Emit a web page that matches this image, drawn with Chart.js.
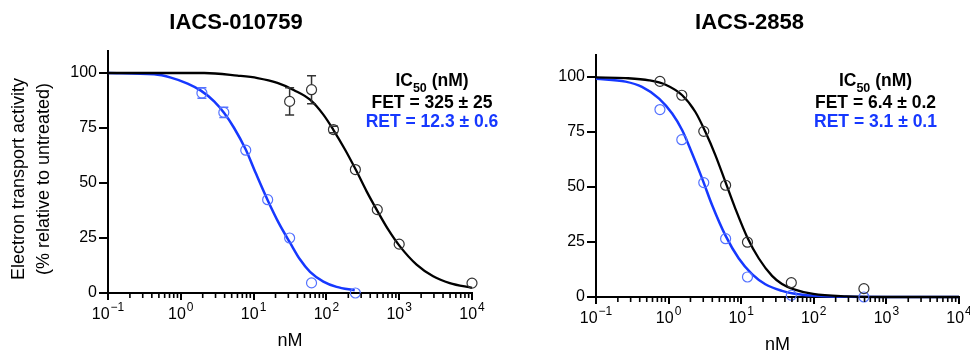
<!DOCTYPE html>
<html>
<head>
<meta charset="utf-8">
<script src="https://cdn.jsdelivr.net/npm/chart.js@4.4.0/dist/chart.umd.min.js"></script>
<style>
    html, body { margin: 0; padding: 0; background: #fff; }
    #wrap { position: relative; width: 970px; height: 351px; overflow: hidden; }
    #left_chart { position: absolute; left: 0; top: 0; }
    #right_chart { position: absolute; left: 540px; top: 0; }
</style>
</head>
<body>
<div id="wrap">
    <canvas id="left_chart" width="540" height="351"></canvas>
    <canvas id="right_chart" width="430" height="351"></canvas>
</div>
<script>
const x_ticks = [0.1, 1, 10, 100, 1000, 10000]
const x_tick_exp = ['\u22121', '0', '1', '2', '3', '4']
const y_ticks = [0, 25, 50, 75, 100]

// IACS-010759 - measured points
const left_fet_x = [31.25, 62.5, 125, 250, 500, 1000, 10000]
const left_fet_y = [87.1, 92.4, 74.3, 56.1, 37.9, 22.2, 4.5]
const left_fet_err = [6.2, 6.4, 1.5, 0, 0, 0, 0]
const left_ret_x = [1.95, 3.9, 7.8, 15.6, 31.25, 62.5, 250]
const left_ret_y = [90.9, 82.1, 64.9, 42.4, 25.0, 4.6, 0]
const left_ret_err = [2.4, 2.3, 0, 0, 0, 0, 0]

// IACS-010759 - fitted curves
const left_fet_fit_x = [0.1, 2.1, 6, 11.3, 21.2, 36, 59.6, 90.8, 124, 180, 260, 357, 490, 708, 1023, 1734, 2926, 4955, 10000]
const left_fet_fit_y = [100, 100, 98.8, 97.7, 95.5, 92.2, 87.9, 81.1, 74.3, 65.2, 55.3, 46.2, 37.9, 28.8, 21.2, 12.9, 7.6, 4.5, 2.3]
const left_ret_fit_x = [0.1, 0.43, 0.73, 1.24, 1.89, 2.87, 3.94, 5.4, 7.8, 10.7, 15.5, 22.4, 31.5, 43.5, 59.6, 90.8, 138, 245]
const left_ret_fit_y = [100, 99.4, 97.9, 95.2, 92, 87.1, 81.8, 75, 65.2, 54.5, 42.4, 31.5, 23, 15.2, 9.6, 5.2, 2.8, 1.2]

// IACS-2858 - measured points
const right_fet_x = [0.76, 1.52, 3.05, 6.1, 12.2, 49, 490]
const right_fet_y = [98.0, 91.7, 75.3, 50.8, 24.9, 6.5, 3.8]
const right_ret_x = [0.76, 1.52, 3.05, 6.1, 12.2, 49, 490]
const right_ret_y = [85.2, 71.5, 52.0, 26.5, 9.1, 0.8, 0]

// IACS-2858 - fitted curves
const right_fet_fit_x = [0.1, 0.255, 0.54, 0.91, 1.54, 2.34, 3.22, 4.42, 6.06, 8.3, 12.05, 17.5, 26.6, 36.5, 52, 98, 282, 1000, 10000]
const right_fet_fit_y = [99.8, 99.5, 98.5, 96.5, 91.7, 84.1, 75, 64.4, 52.3, 40.2, 27.3, 17.5, 9.6, 5.9, 3.6, 1.4, 0.3, 0, 0]
const right_ret_fit_x = [0.1, 0.255, 0.43, 0.74, 1.12, 1.54, 2.11, 2.9, 3.98, 6.06, 9.27, 14.1, 21.5, 36.5, 52, 122, 1000, 10000]
const right_ret_fit_y = [99.2, 97.9, 95.5, 90.2, 83.4, 75.8, 65.2, 53.8, 41.7, 28, 17.5, 10.4, 5.8, 2.8, 1.6, 0.4, 0, 0]

const left_title = 'IACS-010759'
const right_title = 'IACS-2858'
const left_fet_ic50 = 'FET = 325 \u00b1 25'
const left_ret_ic50 = 'RET = 12.3 \u00b1 0.6'
const right_fet_ic50 = 'FET = 6.4 \u00b1 0.2'
const right_ret_ic50 = 'RET = 3.1 \u00b1 0.1'
const y_title = ['Electron transport activity', '(% relative to untreated)']
const x_title = 'nM'

const FONT = '"Liberation Sans", Arial, Helvetica, sans-serif'
const BLUE = 'rgb(22, 56, 255)'
const BLUE_PT = 'rgb(84, 114, 255)'

const zip_xy = (xs, ys) => xs.map((x, i) => ({x: x, y: ys[i]}))

// error bars, drawn outside the open circles
const error_bar_plugin = {
    id: 'errbars',
    afterDatasetsDraw(chart) {
        const ctx = chart.ctx
        const ys = chart.scales.y
        chart.data.datasets.forEach((ds, i) => {
            if (!ds.errorBars) return
            const meta = chart.getDatasetMeta(i)
            ctx.save()
            ctx.strokeStyle = ds.borderColor
            ctx.lineWidth = 1.5
            ds.errorBars.forEach((err, j) => {
                if (!err) return
                const pt = meta.data[j]
                const v = ds.data[j].y
                const top = ys.getPixelForValue(v + err)
                const bot = ys.getPixelForValue(v - err)
                const r = ds.pointRadius
                ctx.beginPath()
                if (pt.y - top > r) { ctx.moveTo(pt.x, top); ctx.lineTo(pt.x, pt.y - r) }
                if (bot - pt.y > r) { ctx.moveTo(pt.x, pt.y + r); ctx.lineTo(pt.x, bot) }
                ctx.moveTo(pt.x - 4.5, top); ctx.lineTo(pt.x + 4.5, top)
                ctx.moveTo(pt.x - 4.5, bot); ctx.lineTo(pt.x + 4.5, bot)
                ctx.stroke()
            })
            ctx.restore()
        })
    }
}

// minor ticks, 10^n labels, axis titles and IC50 notes
const decor_plugin = {
    id: 'decor',
    afterDraw(chart, args, opts) {
        const ctx = chart.ctx
        const xs = chart.scales.x
        const axis_y = xs.top
        ctx.save()
        ctx.strokeStyle = '#000'
        ctx.lineWidth = 1.6
        ctx.beginPath()
        for (let d = -1; d < 4; d++) {
            for (let m = 2; m < 10; m++) {
                const px = xs.getPixelForValue(m * Math.pow(10, d))
                ctx.moveTo(px, axis_y)
                ctx.lineTo(px, axis_y + 5)
            }
        }
        ctx.stroke()

        ctx.fillStyle = '#000'
        ctx.textAlign = 'left'
        ctx.textBaseline = 'alphabetic'
        x_ticks.forEach((v, i) => {
            const px = xs.getPixelForValue(v)
            ctx.font = `16px ${FONT}`
            const w1 = ctx.measureText('10').width
            ctx.font = `12px ${FONT}`
            const w2 = ctx.measureText(x_tick_exp[i]).width
            const x0 = px - (w1 + w2 + 1) / 2
            ctx.font = `16px ${FONT}`
            ctx.fillText('10', x0, axis_y + 26)
            ctx.font = `12px ${FONT}`
            ctx.fillText(x_tick_exp[i], x0 + w1 + 1, axis_y + 18)
        })

        ctx.font = `18px ${FONT}`
        ctx.textAlign = 'center'
        ctx.fillText(x_title, (chart.chartArea.left + chart.chartArea.right) / 2, axis_y + 53)

        if (opts.yTitle) {
            ctx.font = `18px ${FONT}`
            ctx.textBaseline = 'middle'
            y_title.forEach((line, i) => {
                ctx.save()
                ctx.translate(opts.yTitle.x[i], opts.yTitle.cy)
                ctx.rotate(-Math.PI / 2)
                ctx.fillText(line, 0, 0)
                ctx.restore()
            })
        }

        ctx.textAlign = 'left'
        ctx.textBaseline = 'alphabetic'
        ;(opts.notes || []).forEach(note => {
            let total = 0
            note.parts.forEach(p => {
                ctx.font = `bold ${p.size}px ${FONT}`
                p.w = ctx.measureText(p.t).width
                total += p.w
            })
            let x = note.cx - total / 2
            ctx.fillStyle = note.color
            note.parts.forEach(p => {
                ctx.font = `bold ${p.size}px ${FONT}`
                ctx.fillText(p.t, x, note.baseline + (p.dy || 0))
                x += p.w
            })
        })
        ctx.restore()
    }
}

const ic50_notes = (cx, fet_text, ret_text) => [
    {cx: cx, baseline: 86, color: '#000', parts: [
        {t: 'IC', size: 17.5}, {t: '50', size: 12.5, dy: 6}, {t: ' (nM)', size: 17.5}]},
    {cx: cx, baseline: 108, color: '#000', parts: [{t: fet_text, size: 17.5}]},
    {cx: cx, baseline: 126.5, color: BLUE, parts: [{t: ret_text, size: 17.5}]},
]

const dose_response_chart = (canvas_id, cfg) => {
    const canvas = document.getElementById(canvas_id)
    const config = {
        type: 'scatter',
        data: {
            datasets: [
                {
                    label: 'FET',
                    data: zip_xy(cfg.fet_x, cfg.fet_y),
                    borderColor: '#333',
                    backgroundColor: 'rgba(0,0,0,0)',
                    pointRadius: 5,
                    pointBorderWidth: 1.2,
                    errorBars: cfg.fet_err,
                    clip: false,
                },
                {
                    label: 'RET',
                    data: zip_xy(cfg.ret_x, cfg.ret_y),
                    borderColor: BLUE_PT,
                    backgroundColor: 'rgba(0,0,0,0)',
                    pointRadius: 5,
                    pointBorderWidth: 1.2,
                    errorBars: cfg.ret_err,
                    clip: false,
                },
                {
                    type: 'line',
                    label: 'FET fit',
                    data: zip_xy(cfg.fet_fit_x, cfg.fet_fit_y),
                    borderColor: '#000',
                    borderWidth: 2.3,
                    pointRadius: 0,
                    cubicInterpolationMode: 'monotone',
                    clip: false,
                },
                {
                    type: 'line',
                    label: 'RET fit',
                    data: zip_xy(cfg.ret_fit_x, cfg.ret_fit_y),
                    borderColor: BLUE,
                    borderWidth: 2.5,
                    pointRadius: 0,
                    cubicInterpolationMode: 'monotone',
                    clip: false,
                },
            ]
        },
        options: {
            responsive: false,
            animation: false,
            devicePixelRatio: 1,
            layout: {
                padding: {left: 0, right: cfg.pad_right, top: 0, bottom: 0}
            },
            scales: {
                x: {
                    type: 'logarithmic',
                    min: 0.1,
                    max: 10000,
                    afterBuildTicks: (s) => { s.ticks = x_ticks.map(v => ({value: v})) },
                    afterFit: (s) => { s.height = cfg.x_height },
                    ticks: { display: false },
                    grid: {
                        drawOnChartArea: false,
                        drawTicks: true,
                        tickLength: 7,
                        lineWidth: 2,
                        color: '#000',
                    },
                    border: { display: true, width: 2, color: '#000' },
                },
                y: {
                    min: 0,
                    max: 110,
                    afterBuildTicks: (s) => { s.ticks = y_ticks.map(v => ({value: v})) },
                    afterFit: (s) => { s.width = cfg.y_width },
                    ticks: {
                        padding: 2,
                        color: '#000',
                        font: { family: FONT, size: 16 },
                    },
                    grid: {
                        drawOnChartArea: false,
                        drawTicks: true,
                        tickLength: 9,
                        lineWidth: 2,
                        color: '#000',
                    },
                    border: { display: true, width: 2, color: '#000' },
                },
            },
            plugins: {
                legend: { display: false },
                tooltip: { enabled: false },
                title: {
                    display: true,
                    text: cfg.title,
                    color: '#000',
                    font: { family: FONT, size: 22, weight: 'bold', lineHeight: 1.2 },
                    padding: { top: 10, bottom: cfg.title_gap },
                },
                decor: {
                    yTitle: cfg.y_title,
                    notes: cfg.notes,
                },
            },
        },
        plugins: [error_bar_plugin, decor_plugin],
    }
    new Chart(canvas, config)
}

dose_response_chart('left_chart', {
    title: left_title,
    fet_x: left_fet_x, fet_y: left_fet_y, fet_err: left_fet_err,
    ret_x: left_ret_x, ret_y: left_ret_y, ret_err: left_ret_err,
    fet_fit_x: left_fet_fit_x, fet_fit_y: left_fet_fit_y,
    ret_fit_x: left_ret_fit_x, ret_fit_y: left_ret_fit_y,
    pad_right: 68, y_width: 108, x_height: 58, title_gap: 14.6,
    y_title: { x: [19, 44], cy: 179 },
    notes: ic50_notes(432, left_fet_ic50, left_ret_ic50),
})

dose_response_chart('right_chart', {
    title: right_title,
    fet_x: right_fet_x, fet_y: right_fet_y, fet_err: null,
    ret_x: right_ret_x, ret_y: right_ret_y, ret_err: null,
    fet_fit_x: right_fet_fit_x, fet_fit_y: right_fet_fit_y,
    ret_fit_x: right_ret_fit_x, ret_fit_y: right_ret_fit_y,
    pad_right: 11, y_width: 56, x_height: 54, title_gap: 18.6,
    y_title: null,
    notes: ic50_notes(335.5, right_fet_ic50, right_ret_ic50),
})
</script>
</body>
</html>
